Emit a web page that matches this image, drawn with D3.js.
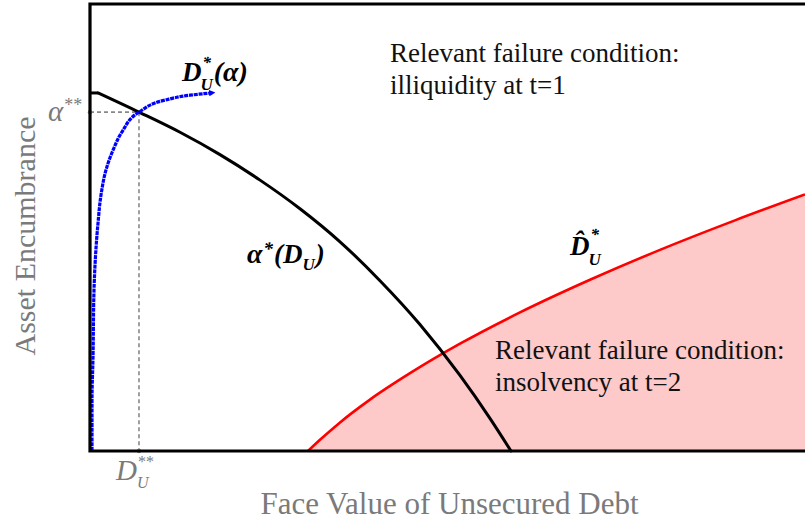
<!DOCTYPE html>
<html>
<head>
<meta charset="utf-8">
<script src="https://cdn.jsdelivr.net/npm/d3@7"></script>
<style>
  html, body { margin: 0; padding: 0; background: #fff; }
  svg { display: block; }
</style>
</head>
<body>
<div id="chart"></div>
<script>
// alpha*(D_U): face value of unsecured debt -> asset encumbrance
var alphaStarD = [0, 0.112, 0.699, 1.259, 1.818, 2.378, 2.937, 3.497, 4.056, 4.615, 5.175, 5.594, 5.888];
var alphaStarA = [0.801, 0.801, 0.757, 0.713, 0.663, 0.606, 0.542, 0.468, 0.381, 0.283, 0.169, 0.073, 0];

// D*_U(alpha)
var dStarA = [0, 0.114, 0.210, 0.360, 0.510, 0.573, 0.629, 0.673, 0.714, 0.758, 0.785, 0.796, 0.801];
var dStarD = [0.028, 0.028, 0.042, 0.056, 0.112, 0.154, 0.224, 0.322, 0.448, 0.685, 1.049, 1.399, 1.692];

// D-hat*_U : boundary of the insolvency region
var dHatD = [3.049, 3.217, 3.497, 3.916, 4.476, 5.175, 6.014, 6.993, 7.972, 9.021, 10.0];
var dHatA = [0, 0.025, 0.064, 0.115, 0.174, 0.240, 0.310, 0.383, 0.450, 0.516, 0.574];

// crossing point (D_U**, alpha**)
var crossD = [0.685];
var crossA = [0.758];

var xDomain = [0, 10],
  yDomain = [0, 1];

(function() {
  var width = 805,
    height = 521,
    padding = { left: 90, right: 0, top: 4, bottom: 70 },
    gray = "#7a7a7a",
    serif = "'Liberation Serif', 'Times New Roman', serif";

  var svg = d3.select("#chart").append("svg")
    .attr("width", width)
    .attr("height", height)
    .style("font-family", serif);

  var x = d3.scaleLinear().domain(xDomain).range([padding.left, width - padding.right]);
  var y = d3.scaleLinear().domain(yDomain).range([height - padding.bottom, padding.top]);

  var zip = function(a, b) {
    return a.map(function(d, i) { return [d, b[i]]; });
  };
  var lineX = d3.line()
    .x(function(d) { return x(d[0]); })
    .y(function(d) { return y(d[1]); })
    .curve(d3.curveMonotoneX);

  // 填充区域 insolvency region
  var hatPts = zip(dHatD, dHatA);
  svg.append("path")
    .datum(hatPts)
    .attr("d", d3.area()
      .x(function(d) { return x(d[0]); })
      .y0(y(0))
      .y1(function(d) { return y(d[1]); })
      .curve(d3.curveMonotoneX))
    .attr("fill", "#fdc9c9");

  // 虚线 guides
  svg.append("path")
    .attr("d", "M" + x(0) + "," + y(crossA[0]) + "H" + x(crossD[0]) + "V" + y(0))
    .attr("fill", "none")
    .attr("stroke", "#888")
    .attr("stroke-width", 1.6)
    .attr("stroke-dasharray", "4,3");
  svg.selectAll(".gdot")
    .data([[0, crossA[0]], [crossD[0], 0]])
    .enter()
    .append("circle")
    .attr("class", "gdot")
    .attr("cx", function(d) { return x(d[0]); })
    .attr("cy", function(d) { return y(d[1]); })
    .attr("r", 2.2)
    .attr("fill", "#888");

  // red boundary
  svg.append("path")
    .datum(hatPts)
    .attr("d", lineX)
    .attr("fill", "none")
    .attr("stroke", "#ff0000")
    .attr("stroke-width", 2.6);

  // black alpha* curve: flat cap (linear) then the smooth part
  var blackPts = zip(alphaStarD, alphaStarA);
  svg.append("path")
    .datum(blackPts.slice(0, 2))
    .attr("d", d3.line()
      .x(function(d) { return x(d[0]); })
      .y(function(d) { return y(d[1]); }))
    .attr("fill", "none")
    .attr("stroke", "#000")
    .attr("stroke-width", 3)
    .attr("stroke-linejoin", "round");
  svg.append("path")
    .datum(blackPts.slice(1))
    .attr("d", lineX)
    .attr("fill", "none")
    .attr("stroke", "#000")
    .attr("stroke-width", 3)
    .attr("stroke-linecap", "round");

  // blue D* curve
  svg.append("defs").append("marker")
    .attr("id", "arrow")
    .attr("viewBox", "0 0 10 10")
    .attr("refX", 3)
    .attr("refY", 5)
    .attr("markerWidth", 2)
    .attr("markerHeight", 2)
    .attr("orient", "auto")
    .append("path")
    .attr("d", "M0,0L10,5L0,10z")
    .attr("fill", "#0000ff");

  svg.append("path")
    .datum(zip(dStarD, dStarA))
    .attr("d", d3.line()
      .x(function(d) { return x(d[0]); })
      .y(function(d) { return y(d[1]); })
      .curve(d3.curveMonotoneY))
    .attr("fill", "none")
    .attr("stroke", "#0000ff")
    .attr("stroke-width", 3.2)
    .attr("stroke-dasharray", "4,0.8")
    .attr("marker-end", "url(#arrow)");

  // 边框 frame
  svg.append("path")
    .attr("d", "M" + (width + 2) + "," + y(1) + "H" + x(0) + "V" + y(0) + "H" + (width + 2))
    .attr("fill", "none")
    .attr("stroke", "#000")
    .attr("stroke-width", 3.2);

  // axis titles
  svg.append("text")
    .attr("x", (x.range()[0] + x.range()[1]) / 2 + 2)
    .attr("y", 514)
    .attr("text-anchor", "middle")
    .attr("fill", gray)
    .attr("font-size", 31)
    .text("Face Value of Unsecured Debt");

  svg.append("text")
    .attr("transform", "translate(35,236) rotate(-90)")
    .attr("text-anchor", "middle")
    .attr("fill", gray)
    .attr("font-size", 30)
    .text("Asset Encumbrance");

  // 文字工具: returns right edge
  var put = function(tx, ty, str, size, o) {
    o = o || {};
    var t = svg.append("text")
      .attr("x", tx)
      .attr("y", ty)
      .attr("font-size", size)
      .attr("fill", o.fill || "#000")
      .attr("font-style", o.italic ? "italic" : null)
      .attr("font-weight", o.bold ? "bold" : null)
      .text(str);
    return tx + t.node().getComputedTextLength();
  };

  // tick-like labels
  var ay = y(crossA[0]);
  var ae = put(48, ay + 9, "α", 29, { fill: gray, italic: true });
  put(ae + 1, ay - 1, "**", 18, { fill: gray });

  var dx0 = x(crossD[0]) - 23;
  var de = put(dx0, 480, "D", 29, { fill: gray, italic: true });
  put(de + 1, 467, "**", 16, { fill: gray });
  put(de, 488, "U", 16, { fill: gray, italic: true });

  // region texts
  var region = function(tx, ty, lines) {
    lines.forEach(function(l, i) {
      put(tx, ty + i * 32, l, 27, { fill: "#111" });
    });
  };
  region(390, 62, ["Relevant failure condition:", "illiquidity at t=1"]);
  region(495, 359, ["Relevant failure condition:", "insolvency at t=2"]);

  // curve labels (bold italic math)
  var bi = { bold: true, italic: true };
  var e1 = put(182, 81, "D", 27, bi);
  put(e1 + 1, 68, "*", 17, bi);
  var u1 = put(e1 - 1, 90, "U", 17, bi);
  put(u1 + 1, 81, "(α)", 28, bi);

  var e2 = put(247, 263, "α", 28, bi);
  var s2 = put(e2 + 1, 255, "*", 19, bi);
  var p2 = put(s2 + 1, 263, "(D", 27, bi);
  var u2 = put(p2, 270, "U", 17, bi);
  put(u2 + 1, 263, ")", 27, bi);

  var e3 = put(570, 255, "D\u0302", 27, bi);
  put(e3 + 1, 240, "*", 17, bi);
  put(e3 - 1, 265, "U", 17, bi);
})();
</script>
</body>
</html>
